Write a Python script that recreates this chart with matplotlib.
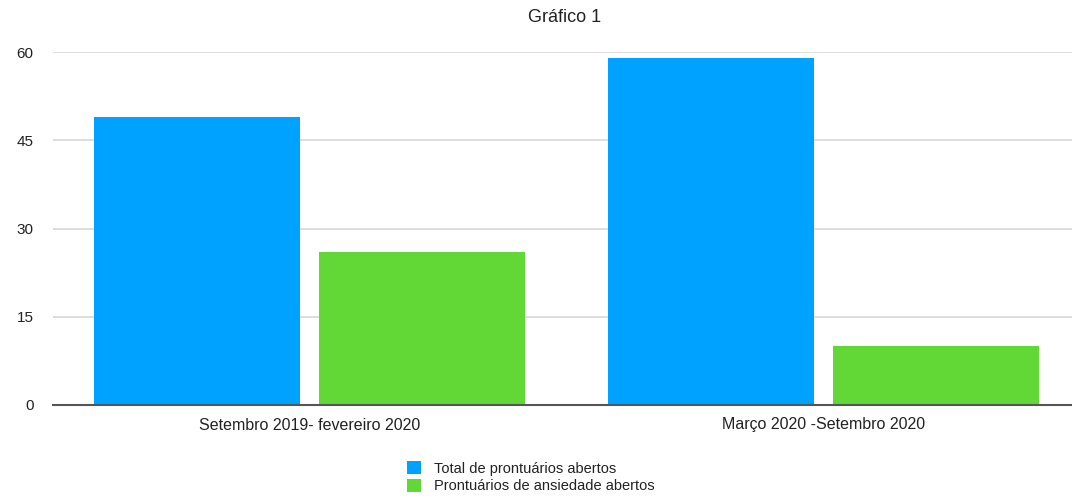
import matplotlib.pyplot as plt
import numpy as np

plt.rcParams["font.family"] = ["Liberation Sans", "DejaVu Sans"]

# Prontuários abertos por período
periods = ["Setembro 2019- fevereiro 2020", "Março 2020 -Setembro 2020"]
total_abertos = [49, 59]
ansiedade_abertos = [26, 10]
series_labels = ["Total de prontuários abertos", "Prontuários de ansiedade abertos"]
y_ticks = [0, 15, 30, 45, 60]

BLUE = "#00A2FF"
GREEN = "#61D836"

fig = plt.figure(figsize=(10.72, 5), dpi=100)
ax = fig.add_axes([0.0494, 0.19, 0.9506, 0.706])

x = np.arange(len(periods))
width = 0.401
offset = 0.219
ax.bar(x - offset, total_abertos, width, color=BLUE, label=series_labels[0], zorder=2)
ax.bar(x + offset, ansiedade_abertos, width, color=GREEN, label=series_labels[1], zorder=2)

ax.set_xlim(-0.499, 1.4835)
ax.set_ylim(0, 60)
ax.set_yticks(y_ticks)
ax.set_yticklabels([str(t) for t in y_ticks], fontsize=11, color="#222222")
ax.set_xticks(x)
ax.set_xticklabels(periods, fontsize=11.5, color="#222222")
ax.tick_params(axis="both", length=0)
ax.tick_params(axis="y", pad=14)
ax.tick_params(axis="x", pad=9)

ax.yaxis.grid(True, color="#d8d8d8", linewidth=1.2, zorder=0)
ax.set_axisbelow(True)
for side in ("top", "right", "left"):
    ax.spines[side].set_visible(False)
ax.spines["bottom"].set_color("#555555")
ax.spines["bottom"].set_linewidth(1.5)
ax.spines["bottom"].set_zorder(3)

fig.text(0.527, 0.966, "Gráfico 1", ha="center", va="center", fontsize=13, color="#222222")

fig.legend(loc="upper left", bbox_to_anchor=(0.3725, 0.092), frameon=False,
           fontsize=10.5, handlelength=1.0, handleheight=1.0, handletextpad=0.9,
           labelspacing=0.2, borderpad=0, labelcolor="#222222")

fig.savefig("out.png", dpi=100)
